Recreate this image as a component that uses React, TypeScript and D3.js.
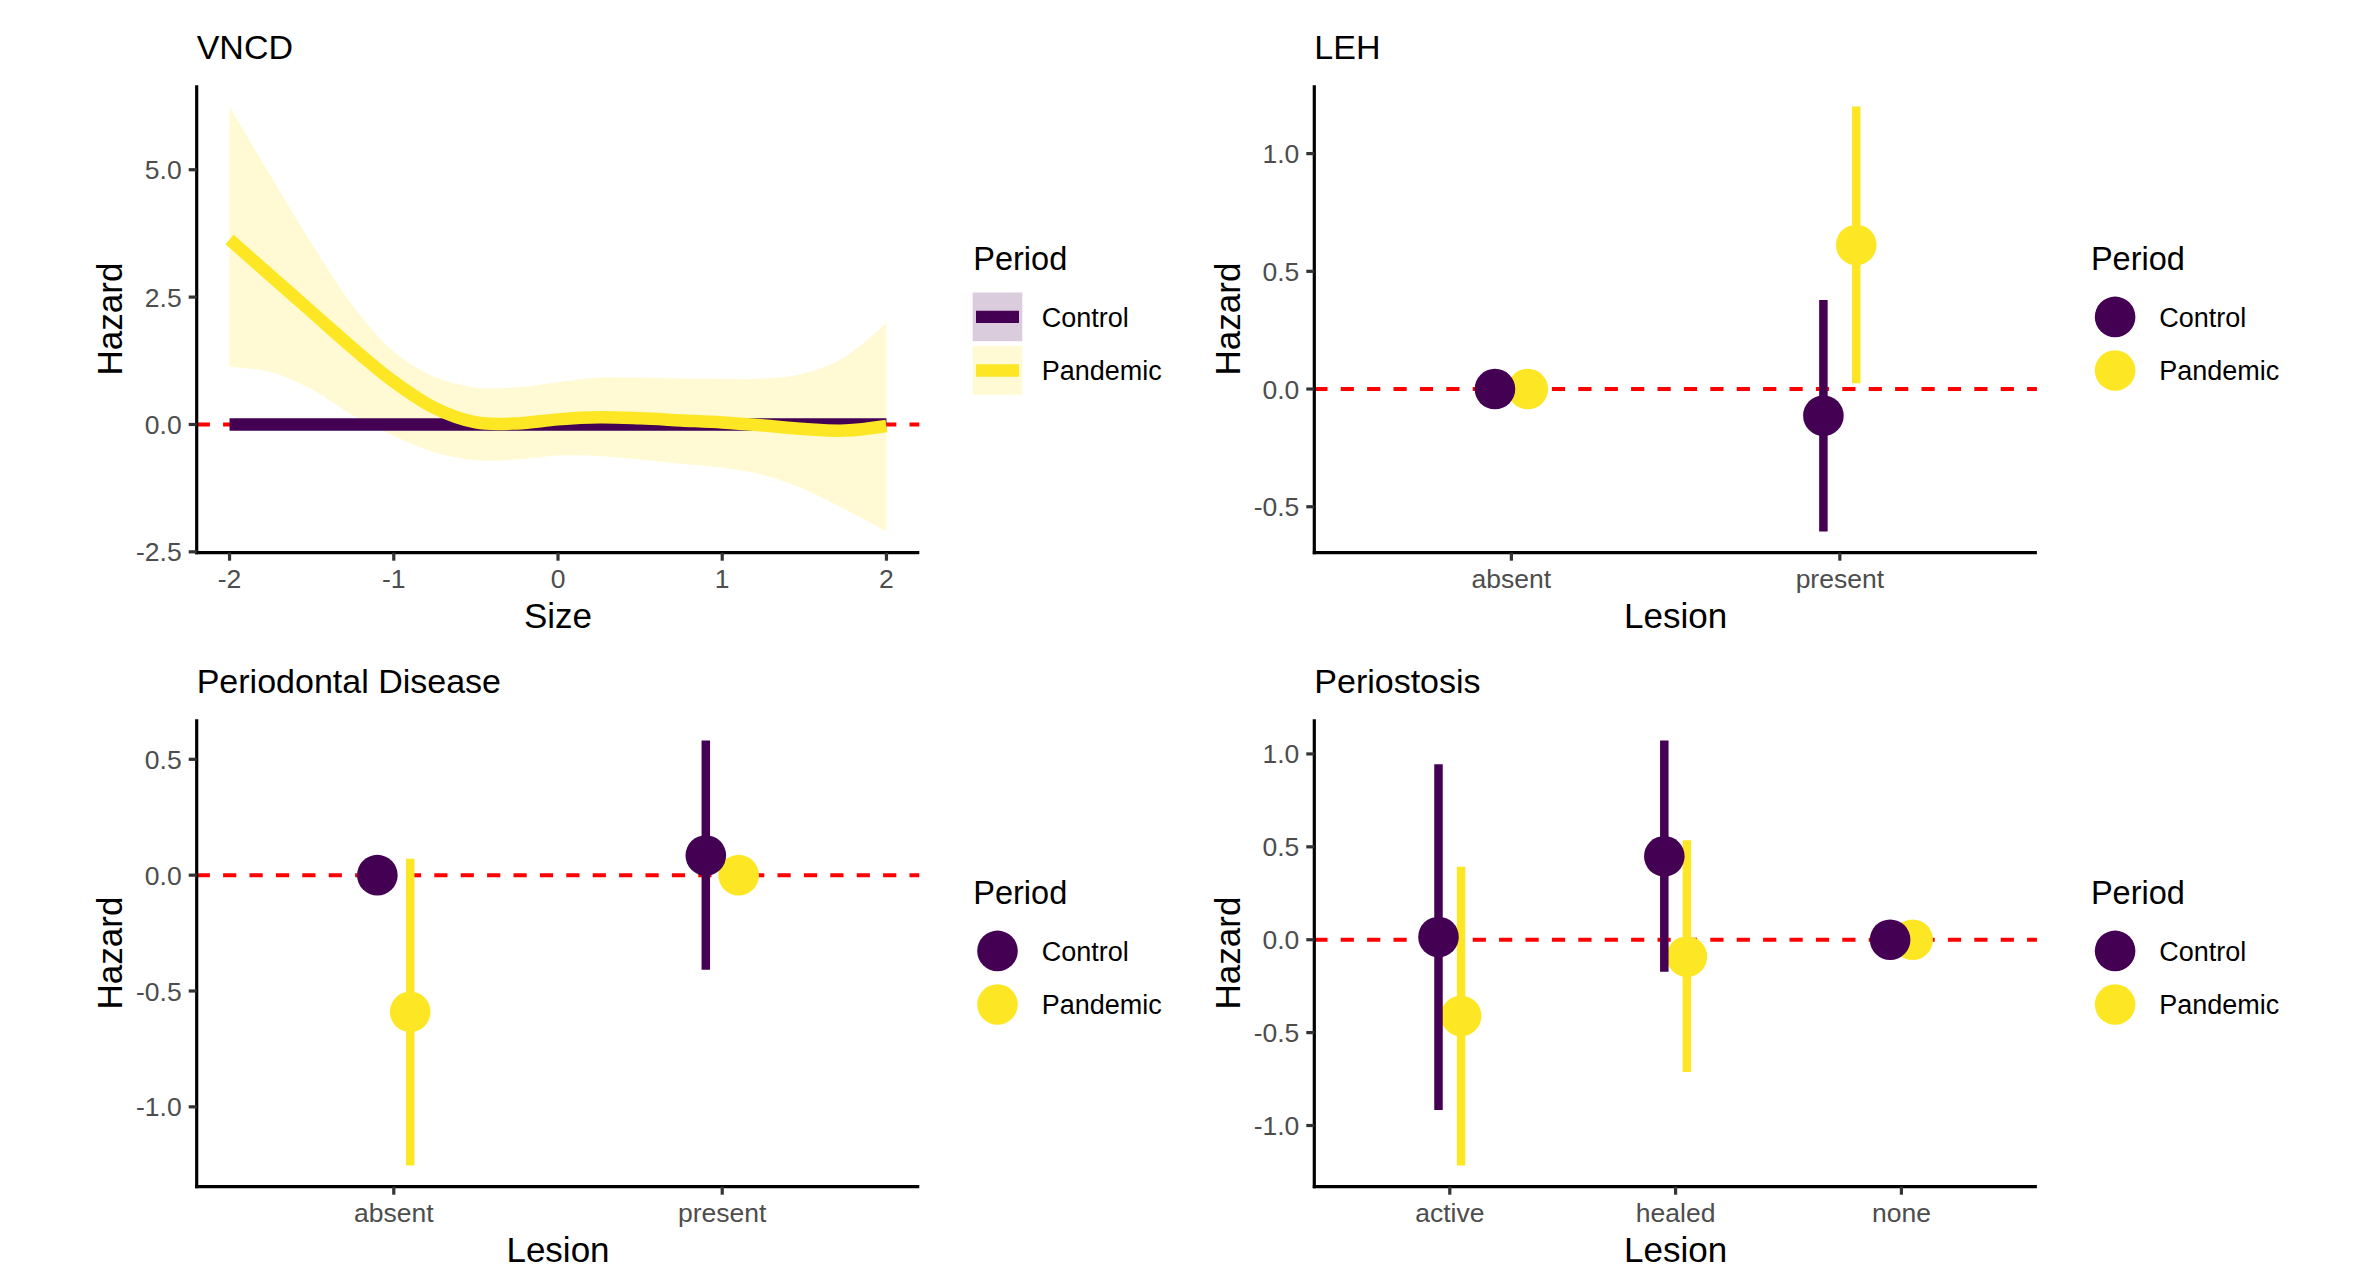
import React from 'react';
import * as d3 from 'd3';

// ---------- data ----------
const PERIODS = ['Control', 'Pandemic'];
const PERIOD_COLORS = ['#440154', '#FDE725'];

// VNCD: smooth hazard by Size
const vncdSize = [-2, -1.75, -1.5, -1.25, -1, -0.75, -0.5, -0.25, 0, 0.25, 0.5, 0.75, 1, 1.25, 1.5, 1.75, 2];
const vncdPandemicFit = [3.63, 2.92, 2.21, 1.5, 0.84, 0.32, 0.04, 0.02, 0.1, 0.14, 0.12, 0.08, 0.04, -0.02, -0.09, -0.12, -0.03];
const vncdPandemicLower = [1.13, 1.03, 0.69, 0.18, -0.22, -0.55, -0.7, -0.69, -0.61, -0.62, -0.69, -0.77, -0.85, -0.99, -1.27, -1.67, -2.1];
const vncdPandemicUpper = [6.24, 4.88, 3.55, 2.33, 1.43, 0.93, 0.72, 0.73, 0.83, 0.92, 0.92, 0.9, 0.89, 0.9, 1.0, 1.33, 1.99];
const vncdControlFit = [0, 0, 0, 0, 0, 0, 0, 0, 0, 0, 0, 0, 0, 0, 0, 0, 0];
const vncdControlLower = [0, 0, 0, 0, 0, 0, 0, 0, 0, 0, 0, 0, 0, 0, 0, 0, 0];
const vncdControlUpper = [0, 0, 0, 0, 0, 0, 0, 0, 0, 0, 0, 0, 0, 0, 0, 0, 0];
const vncdXTicks = [-2, -1, 0, 1, 2];
const vncdYTicks = [-2.5, 0, 2.5, 5];

// LEH
const lehLesion = ['absent', 'present'];
const lehControlEst = [0, -0.113];
const lehControlLow = [0, -0.605];
const lehControlHigh = [0, 0.378];
const lehPandemicEst = [0, 0.612];
const lehPandemicLow = [0, 0.025];
const lehPandemicHigh = [0, 1.2];
const lehYTicks = [-0.5, 0, 0.5, 1.0];

// Periodontal Disease
const pdLesion = ['absent', 'present'];
const pdControlEst = [0, 0.085];
const pdControlLow = [0, -0.408];
const pdControlHigh = [0, 0.581];
const pdPandemicEst = [-0.59, 0];
const pdPandemicLow = [-1.253, 0];
const pdPandemicHigh = [0.071, 0];
const pdYTicks = [-1.0, -0.5, 0, 0.5];

// Periostosis
const poLesion = ['active', 'healed', 'none'];
const poControlEst = [0.015, 0.449, 0];
const poControlLow = [-0.917, -0.173, 0];
const poControlHigh = [0.945, 1.072, 0];
const poPandemicEst = [-0.41, -0.091, 0];
const poPandemicLow = [-1.215, -0.712, 0];
const poPandemicHigh = [0.393, 0.535, 0];
const poYTicks = [-1.0, -0.5, 0, 0.5, 1.0];

// ---------- layout ----------
const W = 2355;
const H = 1271;
const PW = 722.6;
const PH = 467.4;
const FONT = '"Liberation Sans", Arial, Helvetica, sans-serif';
const TICK_GREY = '#4d4d4d';

function expandDomain(vals: number[]): [number, number] {
  const [lo, hi] = d3.extent(vals) as [number, number];
  const pad = (hi - lo) * 0.05;
  return [lo - pad, hi + pad];
}

function Frame({ px, py, title, xTitle, yScale, yTicks, xTickItems, children, legend }: any) {
  return (
    <g>
      <text x={px} y={py - 26} fontSize={34} fontFamily={FONT} fill="#000">{title}</text>
      <text
        transform={`translate(${px - 74.5},${py + PH / 2}) rotate(-90)`}
        textAnchor="middle"
        fontSize={35}
        fontFamily={FONT}
        fill="#000"
      >
        Hazard
      </text>
      <text x={px + PW / 2} y={py + PH + 75} textAnchor="middle" fontSize={35} fontFamily={FONT} fill="#000">
        {xTitle}
      </text>
      {children}
      {/* axes */}
      <line x1={px} x2={px} y1={py} y2={py + PH + 1.5} stroke="#000" strokeWidth={3.2} />
      <line x1={px - 1.5} x2={px + PW} y1={py + PH} y2={py + PH} stroke="#000" strokeWidth={3.2} />
      {yTicks.map((t: number) => (
        <g key={'y' + t}>
          <line x1={px - 8} x2={px} y1={yScale(t)} y2={yScale(t)} stroke="#333" strokeWidth={3.2} />
          <text
            x={px - 15}
            y={yScale(t)}
            dy="0.36em"
            textAnchor="end"
            fontSize={26.5}
            fontFamily={FONT}
            fill={TICK_GREY}
          >
            {t.toFixed(1)}
          </text>
        </g>
      ))}
      {xTickItems.map((t: any) => (
        <g key={'x' + t.label}>
          <line x1={t.x} x2={t.x} y1={py + PH} y2={py + PH + 8} stroke="#333" strokeWidth={3.2} />
          <text x={t.x} y={py + PH + 35.5} textAnchor="middle" fontSize={26.5} fontFamily={FONT} fill={TICK_GREY}>
            {t.label}
          </text>
        </g>
      ))}
      {legend}
    </g>
  );
}

function Legend({ px, py, kind }: { px: number; py: number; kind: 'line' | 'point' }) {
  const lx = px + 776.6;
  const keyCY = [py + 231.6, py + 285.2];
  return (
    <g>
      <text x={lx} y={py + 184.2} fontSize={32.5} fontFamily={FONT} fill="#000">Period</text>
      {PERIODS.map((p, i) => (
        <g key={p}>
          {kind === 'line' ? (
            <g>
              <rect x={lx - 0.6} y={keyCY[i] - 24.4} width={49.6} height={48.7} fill={PERIOD_COLORS[i]} fillOpacity={0.2} />
              <line x1={lx + 2.7} x2={lx + 45.7} y1={keyCY[i]} y2={keyCY[i]} stroke={PERIOD_COLORS[i]} strokeWidth={12.3} />
            </g>
          ) : (
            <circle cx={lx + 24.2} cy={keyCY[i]} r={20.3} fill={PERIOD_COLORS[i]} />
          )}
          <text x={lx + 68.4} y={keyCY[i]} dy="0.36em" fontSize={27} fontFamily={FONT} fill="#000">{p}</text>
        </g>
      ))}
    </g>
  );
}

function ZeroLine({ px, y }: { px: number; y: number }) {
  return (
    <line x1={px} x2={px + PW} y1={y} y2={y} stroke="#FF0000" strokeWidth={4} strokeDasharray="13.2 13.2" />
  );
}

function VncdPanel({ px, py }: { px: number; py: number }) {
  const x = d3.scaleLinear().domain(expandDomain(vncdSize)).range([px, px + PW]);
  const y = d3
    .scaleLinear()
    .domain(expandDomain([...vncdPandemicLower, ...vncdPandemicUpper, ...vncdControlLower, ...vncdControlUpper]))
    .range([py + PH, py]);
  const groups = [
    { fit: vncdControlFit, lo: vncdControlLower, hi: vncdControlUpper },
    { fit: vncdPandemicFit, lo: vncdPandemicLower, hi: vncdPandemicUpper },
  ];
  const area = d3
    .area<number>()
    .x((_, i) => x(vncdSize[i]))
    .curve(d3.curveCatmullRom);
  const line = d3
    .line<number>()
    .x((_, i) => x(vncdSize[i]))
    .curve(d3.curveCatmullRom);
  return (
    <Frame
      px={px}
      py={py}
      title="VNCD"
      xTitle="Size"
      yScale={y}
      yTicks={vncdYTicks}
      xTickItems={vncdXTicks.map((t) => ({ x: x(t), label: String(t) }))}
      legend={<Legend px={px} py={py} kind="line" />}
    >
      <ZeroLine px={px} y={y(0)} />
      {groups.map((g, gi) => (
        <path
          key={'r' + gi}
          d={area.y0((_, i) => y(g.lo[i])).y1((_, i) => y(g.hi[i]))(g.fit) || ''}
          fill={PERIOD_COLORS[gi]}
          fillOpacity={0.2}
        />
      ))}
      {groups.map((g, gi) => (
        <path
          key={'l' + gi}
          d={line.y((v) => y(v))(g.fit) || ''}
          fill="none"
          stroke={PERIOD_COLORS[gi]}
          strokeWidth={12.5}
          strokeLinecap="butt"
          strokeLinejoin="round"
        />
      ))}
    </Frame>
  );
}

function PointPanel({ px, py, title, cats, est, low, high, yTicks }: any) {
  const x = d3.scalePoint<string>().domain(cats).range([px, px + PW]).padding(0.6);
  const step = x.step();
  const y = d3
    .scaleLinear()
    .domain(expandDomain([...low[0], ...high[0], ...low[1], ...high[1], ...est[0], ...est[1]]))
    .range([py + PH, py]);
  const offsets = [-0.05 * step, 0.05 * step];
  const order = [1, 0];
  return (
    <Frame
      px={px}
      py={py}
      title={title}
      xTitle="Lesion"
      yScale={y}
      yTicks={yTicks}
      xTickItems={cats.map((c: string) => ({ x: x(c), label: c }))}
      legend={<Legend px={px} py={py} kind="point" />}
    >
      <ZeroLine px={px} y={y(0)} />
      {order.map((gi) => (
        <g key={gi}>
          {cats.map((c: string, i: number) => {
            const cx = (x(c) as number) + offsets[gi];
            return (
              <g key={c}>
                {high[gi][i] - low[gi][i] > 0 && (
                  <line
                    x1={cx}
                    x2={cx}
                    y1={y(low[gi][i])}
                    y2={y(high[gi][i])}
                    stroke={PERIOD_COLORS[gi]}
                    strokeWidth={8.5}
                  />
                )}
                <circle cx={cx} cy={y(est[gi][i])} r={20.3} fill={PERIOD_COLORS[gi]} />
              </g>
            );
          })}
        </g>
      ))}
    </Frame>
  );
}

export default function App() {
  const left = [196.7, 1314.3];
  const top = [85.3, 719.3];
  return (
    <svg
      width={W}
      height={H}
      viewBox={`0 0 ${W} ${H}`}
      style={{ position: 'absolute', left: 0, top: 0, background: '#fff' }}
    >
      <rect x={0} y={0} width={W} height={H} fill="#fff" />
      <VncdPanel px={left[0]} py={top[0]} />
      <PointPanel
        px={left[1]}
        py={top[0]}
        title="LEH"
        cats={lehLesion}
        est={[lehControlEst, lehPandemicEst]}
        low={[lehControlLow, lehPandemicLow]}
        high={[lehControlHigh, lehPandemicHigh]}
        yTicks={lehYTicks}
      />
      <PointPanel
        px={left[0]}
        py={top[1]}
        title="Periodontal Disease"
        cats={pdLesion}
        est={[pdControlEst, pdPandemicEst]}
        low={[pdControlLow, pdPandemicLow]}
        high={[pdControlHigh, pdPandemicHigh]}
        yTicks={pdYTicks}
      />
      <PointPanel
        px={left[1]}
        py={top[1]}
        title="Periostosis"
        cats={poLesion}
        est={[poControlEst, poPandemicEst]}
        low={[poControlLow, poPandemicLow]}
        high={[poControlHigh, poPandemicHigh]}
        yTicks={poYTicks}
      />
    </svg>
  );
}
